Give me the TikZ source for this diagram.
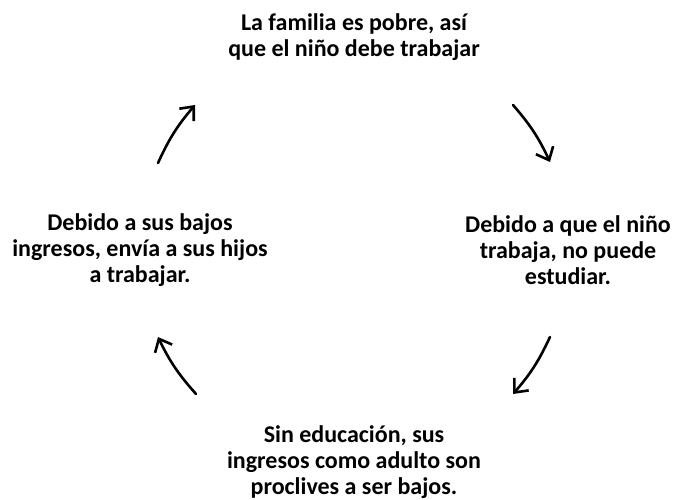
\documentclass[tikz,border=0pt]{standalone}
\usepackage{fontspec}
\setmainfont{Carlito}
\usetikzlibrary{arrows.meta}
\tikzset{
  cycletext/.style={align=center, font=\fontsize{24}{26}\selectfont\bfseries, inner sep=0pt},
  cyclearrow/.style={line width=2.6pt, line cap=round, -{Straight Barb[length=11pt,width=19pt,line width=2.6pt]}}
}
\begin{document}
\begin{tikzpicture}[x=1pt, y=-1pt]
\useasboundingbox (0,0) rectangle (673,500);

% the four stages
\node[cycletext] (poor) at (354,37) {La familia es pobre, así\\que el niño debe trabajar};
\node[cycletext] (nostudy) at (568,250) {Debido a que el niño\\trabaja, no puede\\estudiar.};
\node[cycletext] (lowincome) at (354,462) {Sin educación, sus\\ingresos como adulto son\\proclives a ser bajos.};
\node[cycletext] (sendwork) at (140,250) {Debido a sus bajos\\ingresos, envía a sus hijos\\a trabajar.};

% arrow ends
\coordinate (a1s) at (513,105); \coordinate (a1e) at (550,162);
\coordinate (a2s) at (550,337); \coordinate (a2e) at (513,394);
\coordinate (a3s) at (196,394); \coordinate (a3e) at (158,337);
\coordinate (a4s) at (158,163); \coordinate (a4e) at (195,105);

\draw[cyclearrow] (a1s) to[bend left=8] (a1e);
\draw[cyclearrow] (a2s) to[bend left=8] (a2e);
\draw[cyclearrow] (a3s) to[bend left=8] (a3e);
\draw[cyclearrow] (a4s) to[bend left=8] (a4e);

\end{tikzpicture}
\end{document}
